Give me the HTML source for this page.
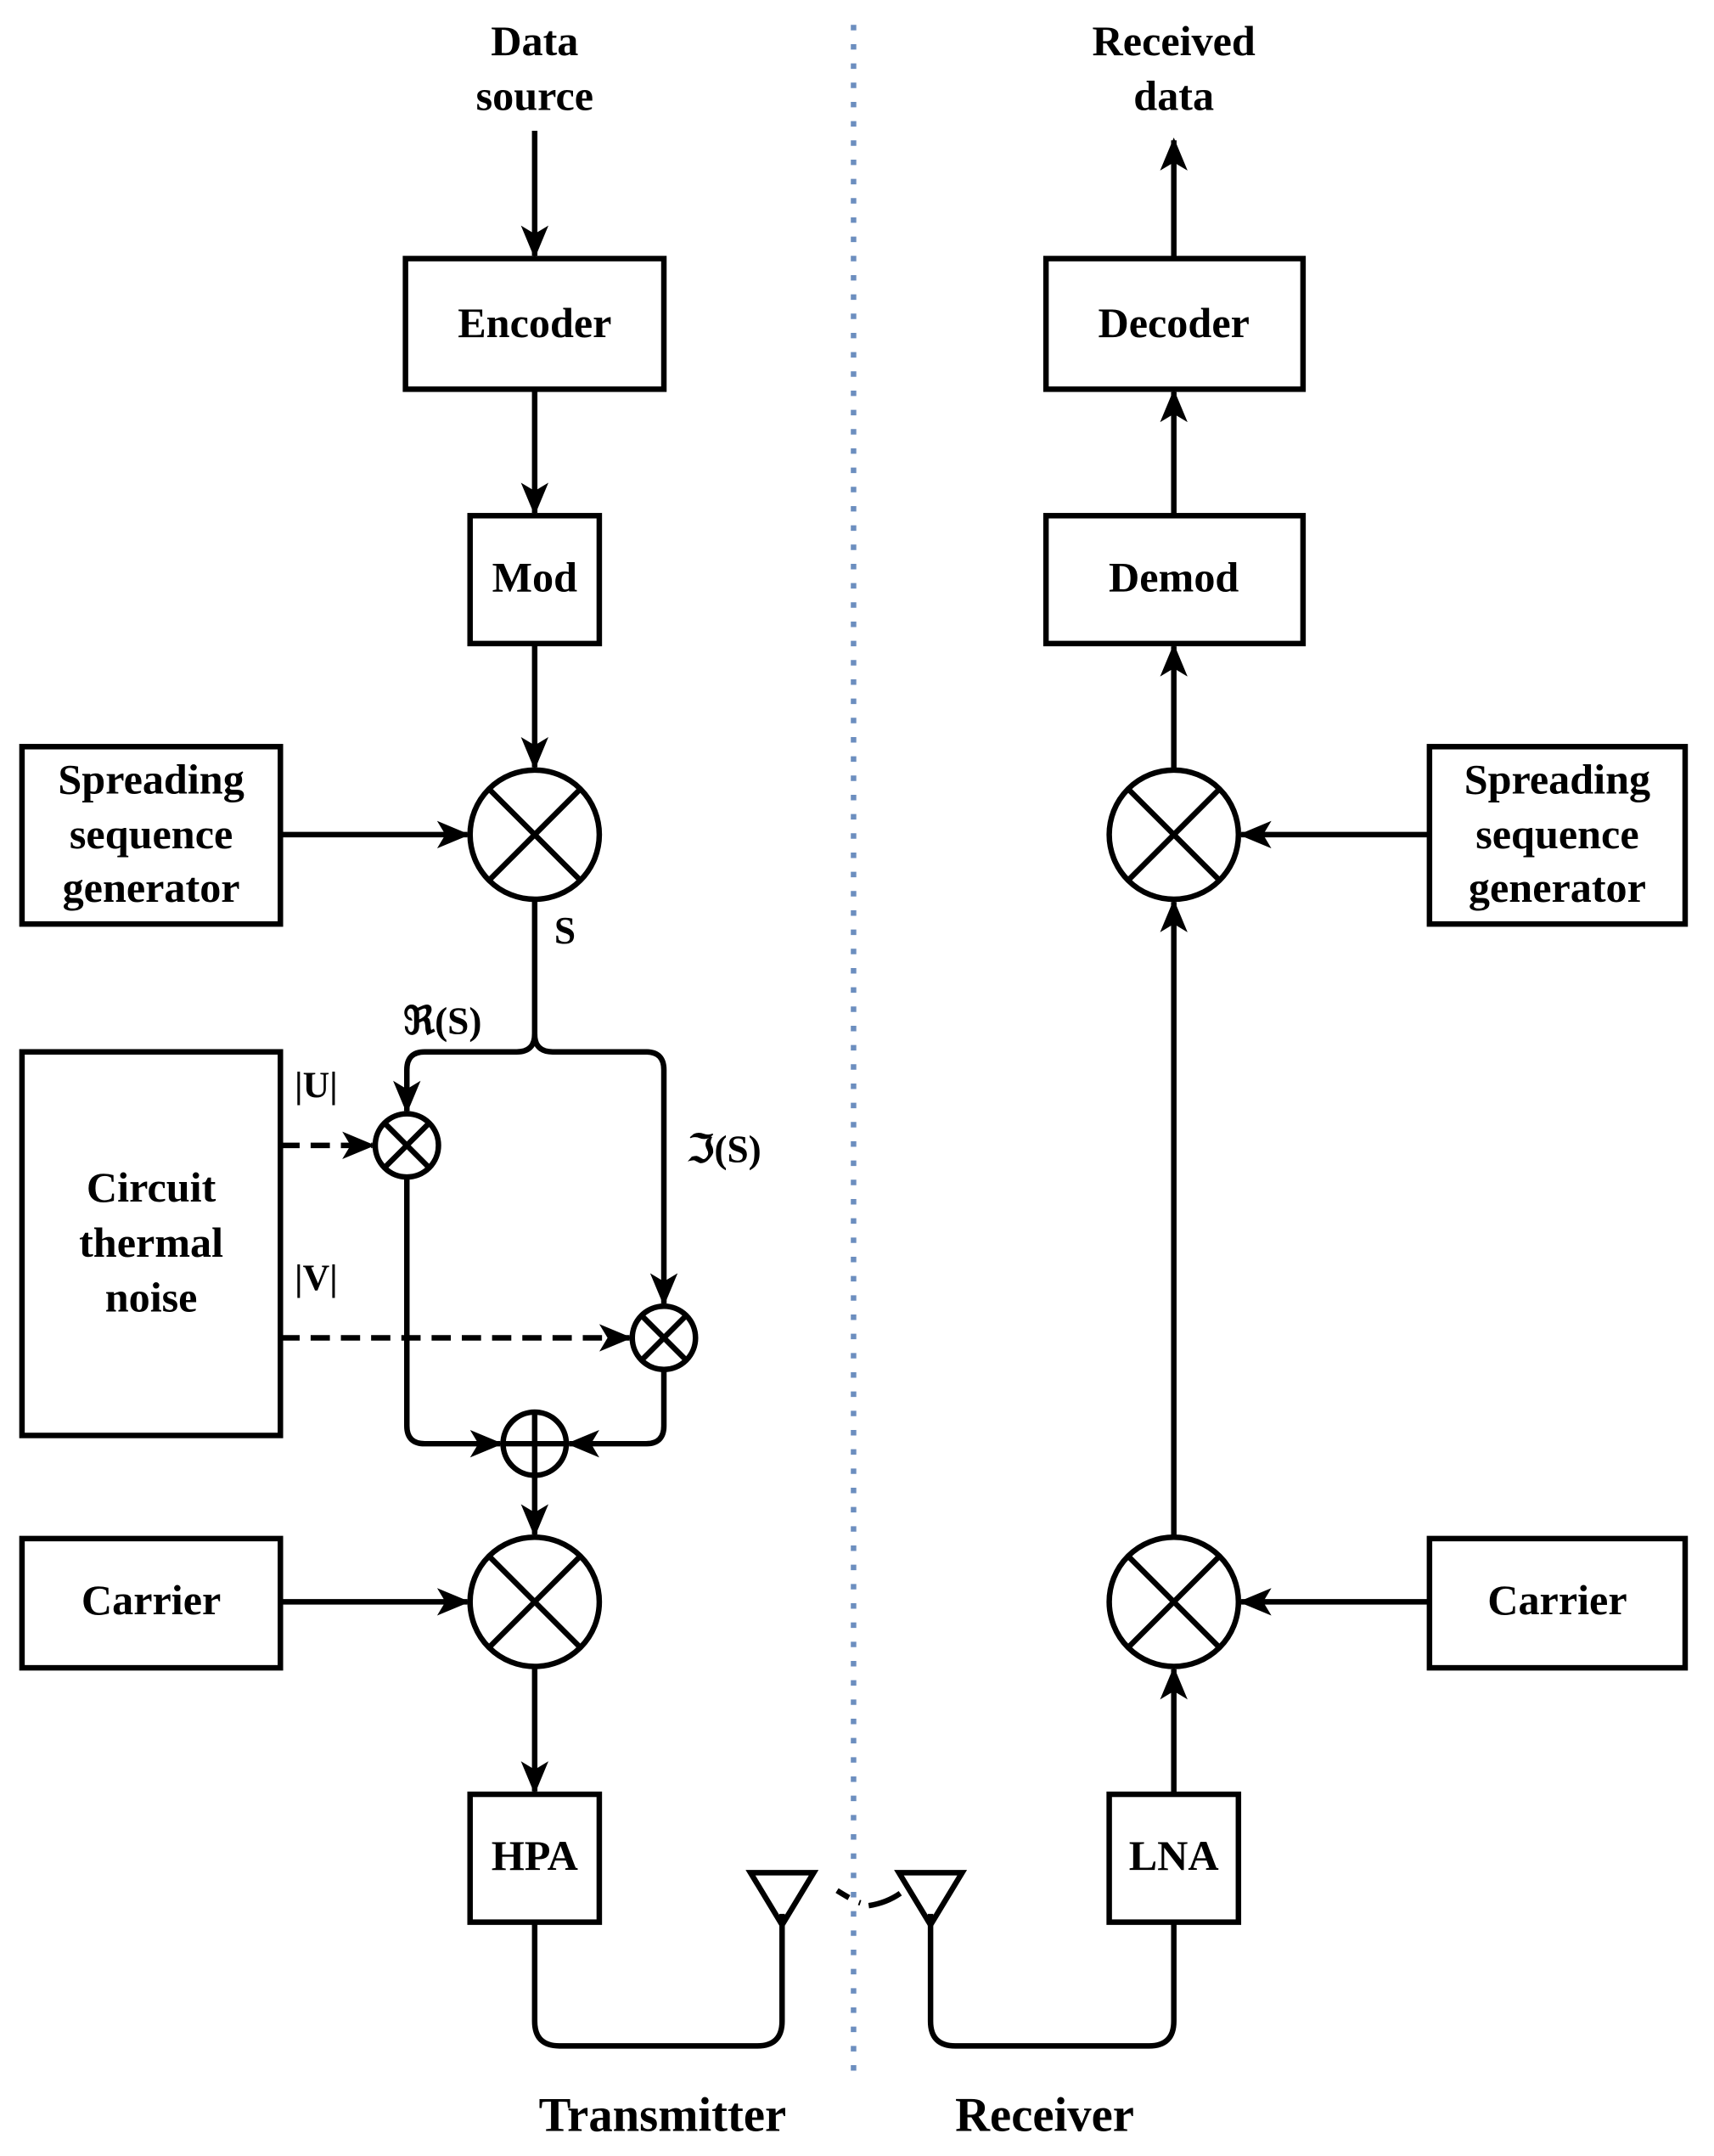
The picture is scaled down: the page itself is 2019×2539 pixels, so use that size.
<!DOCTYPE html>
<html><head><meta charset="utf-8"><style>
html,body{margin:0;padding:0;background:#fff}
svg{display:block}
text{font-family:"Liberation Serif",serif;font-weight:bold;fill:#000}
</style></head><body>
<svg width="2019" height="2539" viewBox="0 0 1247 1568" xmlns="http://www.w3.org/2000/svg">
<defs>
<marker id="a2" markerWidth="24" markerHeight="24" refX="22" refY="12" orient="auto" markerUnits="userSpaceOnUse" viewBox="0 0 24 24">
<path d="M0,2 L24,12 L0,22 L6,12 Z" fill="#000"/></marker>
</defs>
<line x1="621" y1="18" x2="621" y2="1515" stroke="#6c8ebf" stroke-width="4" stroke-dasharray="4 10"/>
<g stroke="#000" stroke-width="4" fill="none">
<rect x="295" y="188" width="188" height="95"/>
<rect x="342" y="375" width="94" height="93"/>
<rect x="16" y="543" width="188" height="129"/>
<rect x="16" y="765" width="188" height="279"/>
<rect x="16" y="1119" width="188" height="94"/>
<rect x="342" y="1305" width="94" height="93"/>
<line x1="389" y1="95" x2="389" y2="186" marker-end="url(#a2)"/>
<line x1="389" y1="283" x2="389" y2="373" marker-end="url(#a2)"/>
<line x1="389" y1="468" x2="389" y2="558" marker-end="url(#a2)"/>
<line x1="204" y1="607" x2="340" y2="607" marker-end="url(#a2)"/>
<circle cx="389" cy="607" r="47"/>
<line x1="356" y1="574" x2="422" y2="640"/><line x1="422" y1="574" x2="356" y2="640"/>
<path d="M389 654 V752 Q389 765 376 765 H309 Q296 765 296 778 V808" marker-end="url(#a2)"/>
<path d="M389 752 Q389 765 402 765 H470 Q483 765 483 778 V948" marker-end="url(#a2)"/>
<circle cx="296" cy="833" r="23"/>
<line x1="280" y1="817" x2="312" y2="849"/><line x1="312" y1="817" x2="280" y2="849"/>
<circle cx="483" cy="973" r="23"/>
<line x1="467" y1="957" x2="499" y2="989"/><line x1="499" y1="957" x2="467" y2="989"/>
<line x1="204" y1="833" x2="271" y2="833" stroke-dasharray="14 8" marker-end="url(#a2)"/>
<line x1="204" y1="973" x2="458" y2="973" stroke-dasharray="14 8" marker-end="url(#a2)"/>
<path d="M296 856 V1037 Q296 1050 309 1050 H364" marker-end="url(#a2)"/>
<path d="M483 996 V1037 Q483 1050 470 1050 H414" marker-end="url(#a2)"/>
<circle cx="389" cy="1050" r="23"/>
<line x1="389" y1="1027" x2="389" y2="1073"/><line x1="366" y1="1050" x2="412" y2="1050"/>
<line x1="389" y1="1073" x2="389" y2="1116" marker-end="url(#a2)"/>
<line x1="204" y1="1165" x2="340" y2="1165" marker-end="url(#a2)"/>
<circle cx="389" cy="1165" r="47"/>
<line x1="356" y1="1132" x2="422" y2="1198"/><line x1="422" y1="1132" x2="356" y2="1198"/>
<line x1="389" y1="1212" x2="389" y2="1303" marker-end="url(#a2)"/>
<path d="M389 1398 V1470 Q389 1488 407 1488 H551 Q569 1488 569 1470 V1392"/>
<path d="M546 1362 H592 L569 1400 Z"/>
<path d="M677 1392 V1470 Q677 1488 695 1488 H836 Q854 1488 854 1470 V1398"/>
<path d="M654 1362 H700 L677 1400 Z"/>
<path d="M609 1375 Q620 1382 626 1384" stroke-dasharray="10 8"/>
<path d="M632 1386 Q645 1384 655 1377"/>
<rect x="807" y="1305" width="94" height="93"/>
<rect x="1040" y="1119" width="186" height="94"/>
<rect x="1040" y="543" width="186" height="129"/>
<rect x="761" y="375" width="187" height="93"/>
<rect x="761" y="188" width="187" height="95"/>
<line x1="854" y1="1305" x2="854" y2="1214" marker-end="url(#a2)"/>
<circle cx="854" cy="1165" r="47"/>
<line x1="821" y1="1132" x2="887" y2="1198"/><line x1="887" y1="1132" x2="821" y2="1198"/>
<line x1="1040" y1="1165" x2="903" y2="1165" marker-end="url(#a2)"/>
<line x1="854" y1="1118" x2="854" y2="656" marker-end="url(#a2)"/>
<circle cx="854" cy="607" r="47"/>
<line x1="821" y1="574" x2="887" y2="640"/><line x1="887" y1="574" x2="821" y2="640"/>
<line x1="1040" y1="607" x2="903" y2="607" marker-end="url(#a2)"/>
<line x1="854" y1="560" x2="854" y2="470" marker-end="url(#a2)"/>
<line x1="854" y1="375" x2="854" y2="285" marker-end="url(#a2)"/>
<line x1="854" y1="188" x2="854" y2="102" marker-end="url(#a2)"/>
</g>
<g font-size="31" text-anchor="middle">
<text x="389" y="40">Data</text><text x="389" y="80">source</text>
<text x="854" y="40">Received</text><text x="854" y="80">data</text>
<text x="389" y="245">Encoder</text>
<text x="389" y="430">Mod</text>
<text x="110" y="577">Spreading</text><text x="110" y="617">sequence</text><text x="110" y="656">generator</text>
<text x="110" y="874">Circuit</text><text x="110" y="914">thermal</text><text x="110" y="954">noise</text>
<text x="110" y="1174">Carrier</text>
<text x="389" y="1360">HPA</text>
<text x="854" y="1360">LNA</text>
<text x="1133" y="1174">Carrier</text>
<text x="1133" y="577">Spreading</text><text x="1133" y="617">sequence</text><text x="1133" y="656">generator</text>
<text x="854" y="430">Demod</text>
<text x="854" y="245">Decoder</text>
<text x="411" y="686" font-size="28">S</text>
<text x="230" y="798" font-size="27" font-weight="normal">|<tspan font-weight="bold">U</tspan>|</text>
<text x="230" y="938" font-size="27" font-weight="normal">|<tspan font-weight="bold">V</tspan>|</text>
<text x="482" y="1550" font-size="35">Transmitter</text>
<text x="760" y="1550" font-size="35">Receiver</text>
</g>
<text x="322" y="752" font-size="28" text-anchor="middle" font-weight="normal">ℜ(<tspan font-weight="bold">S</tspan>)</text>
<text x="527" y="845" font-size="28" text-anchor="middle" font-weight="normal">ℑ(<tspan font-weight="bold">S</tspan>)</text>
</svg>
</body></html>
